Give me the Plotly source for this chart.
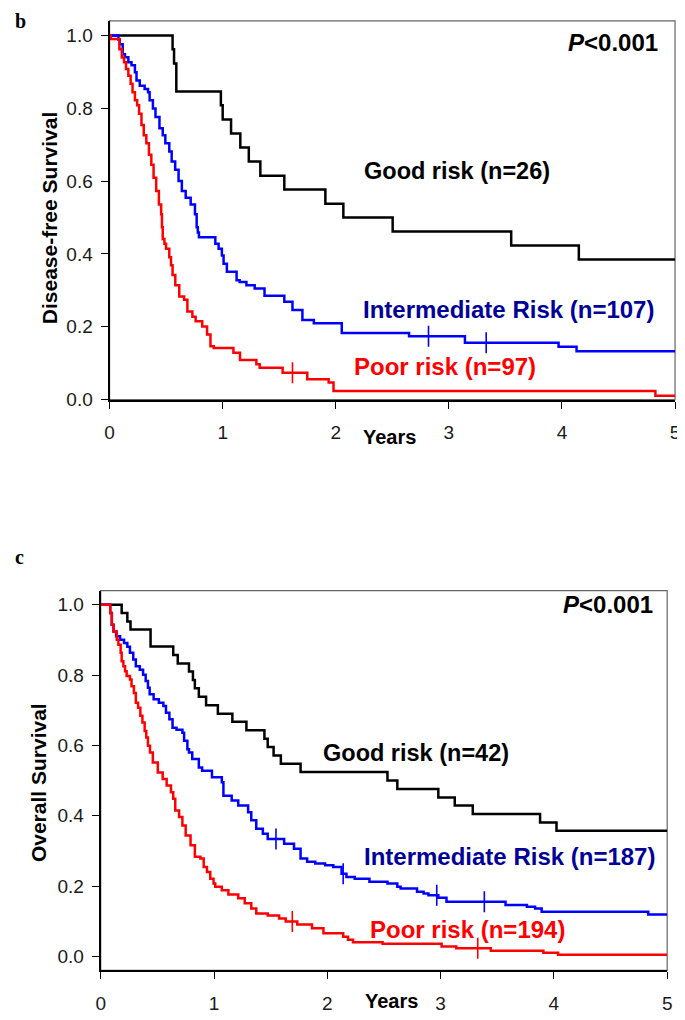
import plotly.graph_objects as go

# panel b: disease-free survival (years, survival fraction)
dfs_good_t = [0, 0.557, 0.57, 0.59, 0.984, 1.0, 1.074, 1.156, 1.231, 1.333, 1.545, 1.908, 2.067,
              2.503, 3.551, 4.149, 5.0]
dfs_good_s = [1.0, 0.962, 0.923, 0.846, 0.808, 0.769, 0.731, 0.692, 0.654, 0.615, 0.577, 0.538, 0.5,
              0.462, 0.423, 0.385, 0.385]

dfs_int_t = [0, 0.078, 0.09, 0.116, 0.136, 0.166, 0.194, 0.224, 0.238, 0.267, 0.31, 0.34, 0.354,
             0.383, 0.406, 0.441, 0.47, 0.493, 0.528, 0.549, 0.58, 0.61, 0.639, 0.673, 0.717, 0.755,
             0.77, 0.78, 0.79, 0.935, 0.964, 0.993, 1.008, 1.037, 1.123, 1.15, 1.21, 1.283, 1.37,
             1.545, 1.617, 1.705, 1.806, 2.053, 2.648, 3.142, 3.97, 4.129, 5.0]
dfs_int_s = [1.0, 0.989, 0.976, 0.948, 0.94, 0.926, 0.918, 0.899, 0.876, 0.862, 0.853, 0.844, 0.822,
             0.799, 0.776, 0.745, 0.726, 0.704, 0.681, 0.654, 0.631, 0.6, 0.573, 0.554, 0.536, 0.509,
             0.473, 0.459, 0.446, 0.428, 0.414, 0.396, 0.373, 0.351, 0.328, 0.323, 0.314, 0.305, 0.285,
             0.269, 0.246, 0.219, 0.21, 0.183, 0.174, 0.156, 0.145, 0.133, 0.133]

dfs_poor_t = [0, 0.01, 0.087, 0.108, 0.128, 0.145, 0.166, 0.186, 0.203, 0.224, 0.244, 0.261, 0.282,
              0.302, 0.325, 0.348, 0.369, 0.389, 0.412, 0.436, 0.456, 0.463, 0.47, 0.485, 0.499, 0.528,
              0.543, 0.557, 0.581, 0.616, 0.659, 0.688, 0.732, 0.761, 0.819, 0.862, 0.892, 0.921,
              1.095, 1.153, 1.298, 1.327, 1.53, 1.748, 1.937, 1.98, 4.826, 5.0]
dfs_poor_s = [1.0, 0.99, 0.962, 0.939, 0.926, 0.908, 0.889, 0.867, 0.844, 0.822, 0.808, 0.785, 0.754,
              0.726, 0.704, 0.672, 0.645, 0.609, 0.573, 0.536, 0.509, 0.473, 0.441, 0.428, 0.414, 0.391,
              0.369, 0.342, 0.314, 0.283, 0.274, 0.242, 0.228, 0.215, 0.201, 0.179, 0.147, 0.142,
              0.129, 0.109, 0.097, 0.088, 0.074, 0.056, 0.047, 0.024, 0.011, 0.011]

dfs_int_cens_t = [2.82, 3.33]
dfs_int_cens_s = [0.174, 0.156]
dfs_poor_cens_t = [1.617]
dfs_poor_cens_s = [0.074]

# panel c: overall survival
os_good_t = [0, 0.185, 0.235, 0.263, 0.44, 0.64, 0.68, 0.779, 0.814, 0.831, 0.866, 0.93, 1.034,
             1.162, 1.286, 1.445, 1.474, 1.526, 1.59, 1.764, 2.531, 2.618, 2.98, 3.125, 3.284, 3.878,
             4.023, 5.0]
os_good_s = [1.0, 0.976, 0.952, 0.929, 0.881, 0.857, 0.833, 0.81, 0.786, 0.762, 0.738, 0.714, 0.69,
             0.667, 0.643, 0.619, 0.595, 0.571, 0.548, 0.524, 0.5, 0.476, 0.452, 0.429, 0.405, 0.381,
             0.357, 0.357]

os_int_t = [0, 0.084, 0.098, 0.113, 0.136, 0.171, 0.206, 0.235, 0.258, 0.287, 0.31, 0.345, 0.374,
            0.397, 0.417, 0.432, 0.467, 0.513, 0.553, 0.576, 0.606, 0.634, 0.669, 0.721, 0.736, 0.765,
            0.779, 0.808, 0.866, 0.895, 0.982, 1.069, 1.083, 1.156, 1.214, 1.301, 1.329, 1.373, 1.431,
            1.474, 1.619, 1.706, 1.764, 1.822, 1.894, 1.981, 2.053, 2.126, 2.169, 2.242, 2.372, 2.531,
            2.618, 2.647, 2.792, 2.85, 2.893, 2.98, 3.052, 3.573, 3.762, 3.834, 3.892, 4.833, 5.0]
os_int_s = [1.0, 0.976, 0.943, 0.924, 0.91, 0.9, 0.891, 0.88, 0.863, 0.844, 0.825, 0.815, 0.801,
            0.783, 0.764, 0.745, 0.731, 0.721, 0.712, 0.693, 0.674, 0.65, 0.644, 0.636, 0.613, 0.589,
            0.58, 0.561, 0.537, 0.528, 0.509, 0.495, 0.457, 0.443, 0.429, 0.41, 0.387, 0.363, 0.349,
            0.334, 0.32, 0.306, 0.278, 0.269, 0.264, 0.259, 0.254, 0.235, 0.226, 0.221, 0.212, 0.207,
            0.198, 0.193, 0.184, 0.179, 0.174, 0.167, 0.155, 0.146, 0.141, 0.136, 0.127, 0.119, 0.119]

os_poor_t = [0, 0.084, 0.098, 0.113, 0.142, 0.156, 0.176, 0.185, 0.2, 0.215, 0.229, 0.258, 0.272,
             0.293, 0.31, 0.33, 0.35, 0.368, 0.388, 0.402, 0.417, 0.435, 0.46, 0.504, 0.547, 0.582,
             0.62, 0.64, 0.658, 0.692, 0.721, 0.75, 0.793, 0.831, 0.88, 0.909, 0.938, 0.967, 0.996,
             1.011, 1.069, 1.127, 1.214, 1.271, 1.329, 1.373, 1.474, 1.575, 1.633, 1.735, 1.865,
             1.966, 2.14, 2.183, 2.227, 2.488, 3.009, 3.139, 3.443, 3.907, 4.037, 5.0]
os_poor_s = [1.0, 0.976, 0.943, 0.924, 0.9, 0.886, 0.863, 0.839, 0.825, 0.811, 0.797, 0.787, 0.768,
             0.749, 0.721, 0.707, 0.684, 0.665, 0.641, 0.622, 0.599, 0.58, 0.551, 0.523, 0.504, 0.486,
             0.467, 0.448, 0.415, 0.396, 0.372, 0.344, 0.316, 0.283, 0.278, 0.254, 0.24, 0.221, 0.207,
             0.198, 0.188, 0.176, 0.165, 0.151, 0.136, 0.122, 0.116, 0.108, 0.099, 0.091, 0.08,
             0.066, 0.056, 0.047, 0.04, 0.036, 0.028, 0.023, 0.016, 0.01, 0.005, 0.005]

os_int_cens_t = [1.547, 2.14, 2.966, 3.386]
os_int_cens_s = [0.334, 0.235, 0.174, 0.155]
os_poor_cens_t = [1.691, 3.328]
os_poor_cens_s = [0.099, 0.023]

y_ticks = [0.0, 0.2, 0.4, 0.6, 0.8, 1.0]
x_ticks = [0, 1, 2, 3, 4, 5]

FONT = "Liberation Sans, Arial, sans-serif"
BLACK, BLUE, RED, NAVY = "#000000", "#0000FF", "#FF0000", "#000099"

# the page body keeps an 8px margin, so the figure is 16px smaller than the window
W, H = 677, 1012

fig = go.Figure()


def add_curve(t, s, color, xa, ya):
    fig.add_trace(go.Scatter(x=t, y=s, mode="lines", line=dict(color=color, width=2.5, shape="hv"),
                             xaxis=xa, yaxis=ya, showlegend=False, hoverinfo="skip"))


def add_cens(t, s, color, xa, ya):
    fig.add_trace(go.Scatter(x=t, y=s, mode="markers",
                             marker=dict(symbol="line-ns", size=15, line=dict(color=color, width=1.6)),
                             xaxis=xa, yaxis=ya, showlegend=False, hoverinfo="skip"))


add_curve(dfs_good_t, dfs_good_s, BLACK, "x", "y")
add_curve(dfs_int_t, dfs_int_s, BLUE, "x", "y")
add_curve(dfs_poor_t, dfs_poor_s, RED, "x", "y")
add_cens(dfs_int_cens_t, dfs_int_cens_s, BLUE, "x", "y")
add_cens(dfs_poor_cens_t, dfs_poor_cens_s, RED, "x", "y")

add_curve(os_good_t, os_good_s, BLACK, "x2", "y2")
add_curve(os_int_t, os_int_s, BLUE, "x2", "y2")
add_curve(os_poor_t, os_poor_s, RED, "x2", "y2")
add_cens(os_int_cens_t, os_int_cens_s, BLUE, "x2", "y2")
add_cens(os_poor_cens_t, os_poor_cens_s, RED, "x2", "y2")

tickfont = dict(family=FONT, size=19, color="#1a1a1a")
xcommon = dict(range=[0, 5], tickvals=x_ticks, ticks="outside", ticklen=7, tickwidth=1,
               tickcolor="black", showline=True, linecolor="black", linewidth=2,
               showgrid=False, zeroline=False, tickfont=tickfont, ticklabelstandoff=8,
               ticklabeloverflow="allow")
ycommon = dict(tickvals=y_ticks, tickformat=".1f", ticks="outside", ticklen=7, tickwidth=1,
               tickcolor="black", showline=True, linecolor="black", linewidth=2,
               showgrid=False, zeroline=False, tickfont=tickfont, ticklabelstandoff=4)

fig.update_layout(
    width=W, height=H, margin=dict(l=0, r=0, t=0, b=0),
    paper_bgcolor="white", plot_bgcolor="white",
    xaxis=dict(domain=[0.1448, 0.9926], anchor="y", **xcommon),
    yaxis=dict(domain=[0.6087, 0.9872], anchor="x", range=[0, 1.04], **ycommon),
    xaxis2=dict(domain=[0.1315, 0.9808], anchor="y2", **xcommon),
    yaxis2=dict(domain=[0.0385, 0.4180], anchor="x2", range=[-0.04, 1.04], **ycommon),
)

# thin grey box round each panel
for xr, yr in [("x domain", "y domain"), ("x2 domain", "y2 domain")]:
    fig.add_shape(type="rect", xref=xr, yref=yr, x0=0, x1=1, y0=0, y1=1,
                  line=dict(color="#666666", width=1.2), layer="below")

# panel letters
fig.add_annotation(text="<b>b</b>", x=0, y=1.0, xanchor="left", yanchor="top",
                   font=dict(family="Liberation Serif", size=20, color=BLACK))
fig.add_annotation(text="<b>c</b>", x=0, y=0.4516, xanchor="left", yanchor="middle",
                   font=dict(family="Liberation Serif", size=20, color=BLACK))

titles = [
    ("<b>Disease-free Survival</b>", 0.0547, 0.7905, -90, 21),
    ("<b>Overall Survival</b>", 0.0384, 0.2263, -90, 21),
    ("<b>Years</b>", 0.5643, 0.5712, 0, 20),
    ("<b>Years</b>", 0.5672, 0.0079, 0, 20),
]
for txt, x, y, ang, sz in titles:
    fig.add_annotation(text=txt, x=x, y=y, textangle=ang, xanchor="center", yanchor="middle",
                       font=dict(family=FONT, size=sz, color=BLACK))
fig.update_annotations(xref="paper", yref="paper", showarrow=False)

labels = [
    ("x", "y", 4.86, 0.981, "<b><i>P</i>&lt;0.001</b>", BLACK, "right", 24),
    ("x", "y", 2.239, 0.628, "<b>Good risk (n=26)</b>", BLACK, "left", 23.5),
    ("x", "y", 2.23, 0.247, "<b>Intermediate Risk (n=107)</b>", NAVY, "left", 24),
    ("x", "y", 2.152, 0.092, "<b>Poor risk (n=97)</b>", RED, "left", 24),
    ("x2", "y2", 4.88, 1.0, "<b><i>P</i>&lt;0.001</b>", BLACK, "right", 24),
    ("x2", "y2", 1.955, 0.579, "<b>Good risk (n=42)</b>", BLACK, "left", 23.5),
    ("x2", "y2", 2.311, 0.283, "<b>Intermediate Risk (n=187)</b>", NAVY, "left", 24),
    ("x2", "y2", 2.372, 0.0755, "<b>Poor risk (n=194)</b>", RED, "left", 24),
]
for xr, yr, x, y, txt, col, anc, sz in labels:
    fig.add_annotation(xref=xr, yref=yr, x=x, y=y, text=txt, showarrow=False, xanchor=anc,
                       yanchor="middle", borderpad=0, font=dict(family=FONT, size=sz, color=col))

fig.write_html("out.html")
